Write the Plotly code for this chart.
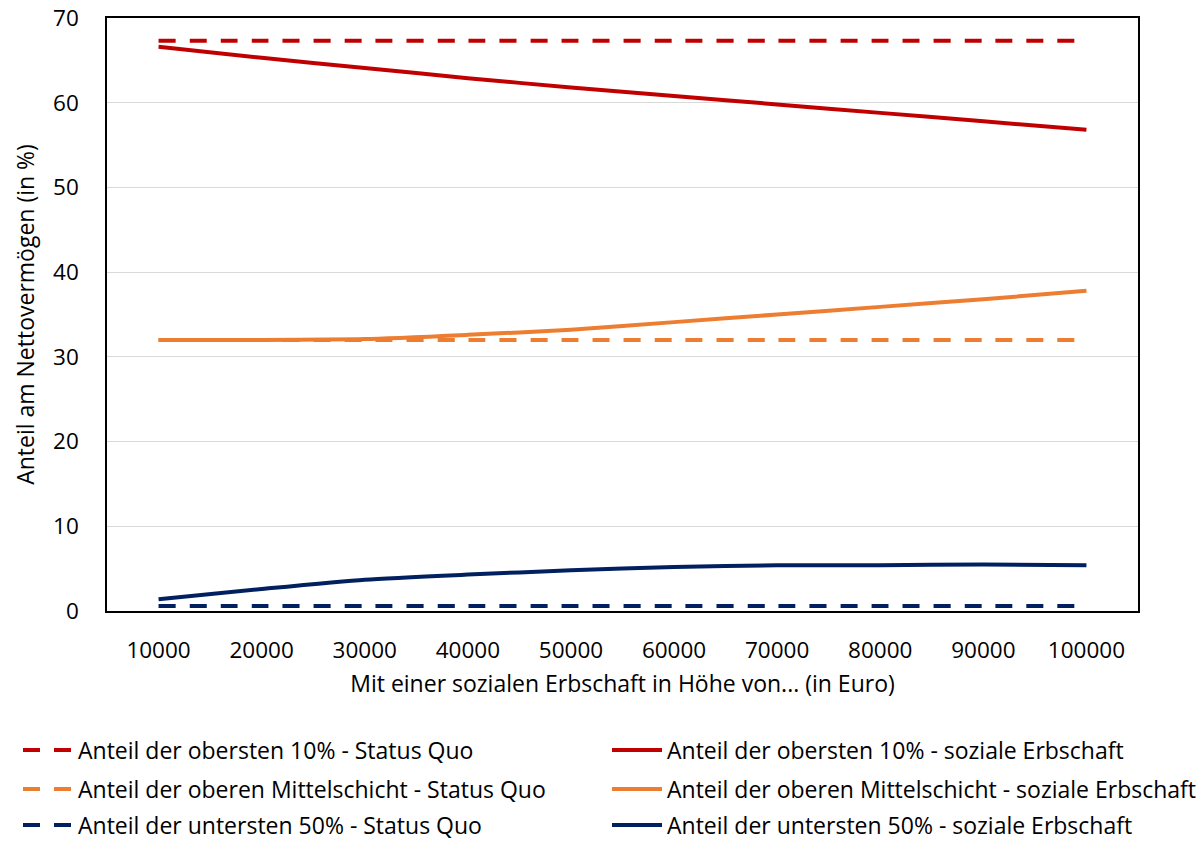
import plotly.graph_objects as go

# Categories: amount of the social inheritance (Euro)
betraege = ["10000", "20000", "30000", "40000", "50000",
            "60000", "70000", "80000", "90000", "100000"]

# Shares of net wealth (in %)
top10_status_quo = [67.3] * 10
top10_erbschaft = [66.6, 65.3, 64.1, 62.9, 61.8, 60.8, 59.8, 58.8, 57.8, 56.8]
mitte_status_quo = [32.0] * 10
mitte_erbschaft = [32.0, 32.0, 32.1, 32.6, 33.2, 34.1, 35.0, 35.9, 36.8, 37.8]
unten50_status_quo = [0.6] * 10
unten50_erbschaft = [1.4, 2.6, 3.7, 4.3, 4.8, 5.2, 5.4, 5.4, 5.5, 5.4]

ROT = "#C00000"
ORANGE = "#ED7D31"
NAVY = "#002060"
FONT = "Open Sans, Lato, sans-serif"
DASH = "17px,14px"

# (legend id, name, values, colour, dash)
serien = [
    ("legend", "Anteil der obersten 10% - Status Quo", top10_status_quo, ROT, DASH),
    ("legend2", "Anteil der obersten 10% - soziale Erbschaft", top10_erbschaft, ROT, "solid"),
    ("legend3", "Anteil der oberen Mittelschicht - Status Quo", mitte_status_quo, ORANGE, DASH),
    ("legend4", "Anteil der oberen Mittelschicht - soziale Erbschaft", mitte_erbschaft, ORANGE, "solid"),
    ("legend5", "Anteil der untersten 50% - Status Quo", unten50_status_quo, NAVY, DASH),
    ("legend6", "Anteil der untersten 50% - soziale Erbschaft", unten50_erbschaft, NAVY, "solid"),
]

fig = go.Figure()
for leg, name, werte, farbe, dash in serien:
    fig.add_trace(go.Scatter(
        x=betraege, y=werte, name=name, mode="lines", legend=leg,
        line=dict(color=farbe, width=4, dash=dash, shape="spline", smoothing=0.6),
    ))

W, H = 1197, 841


def legende(x_links, y_mitte):
    return dict(
        orientation="h", xref="container", yref="container",
        x=x_links / W, xanchor="left", y=1 - y_mitte / H, yanchor="middle",
        itemwidth=50,
        font=dict(family=FONT, size=23, color="#000000"),
        bgcolor="rgba(0,0,0,0)", borderwidth=0,
    )


fig.update_layout(
    width=W, height=H,
    margin=dict(l=107, r=59, t=18, b=230, autoexpand=False),
    paper_bgcolor="white", plot_bgcolor="white",
    font=dict(family=FONT, size=23, color="#000000"),
    xaxis=dict(
        type="category", range=[-0.5, 9.5],
        title=dict(text="Mit einer sozialen Erbschaft in Höhe von... (in Euro)",
                   font=dict(size=23), standoff=12),
        showgrid=False, showline=True, linecolor="black", linewidth=1.5,
        mirror=True, ticks="", tickfont=dict(size=22.5), ticklabelstandoff=18,
    ),
    yaxis=dict(
        title=dict(text="Anteil am Nettovermögen (in %)", font=dict(size=23), standoff=12),
        range=[0, 70], dtick=10, showgrid=True, gridcolor="#D9D9D9", gridwidth=1,
        showline=True, linecolor="black", linewidth=1.5, mirror=True,
        ticks="", tickfont=dict(size=22.5), zeroline=False, ticklabelstandoff=22,
    ),
    legend=legende(18, 750),
    legend2=legende(607, 750),
    legend3=legende(18, 789),
    legend4=legende(607, 789),
    legend5=legende(18, 825),
    legend6=legende(607, 825),
    showlegend=True,
)

fig.write_html("out.html")
